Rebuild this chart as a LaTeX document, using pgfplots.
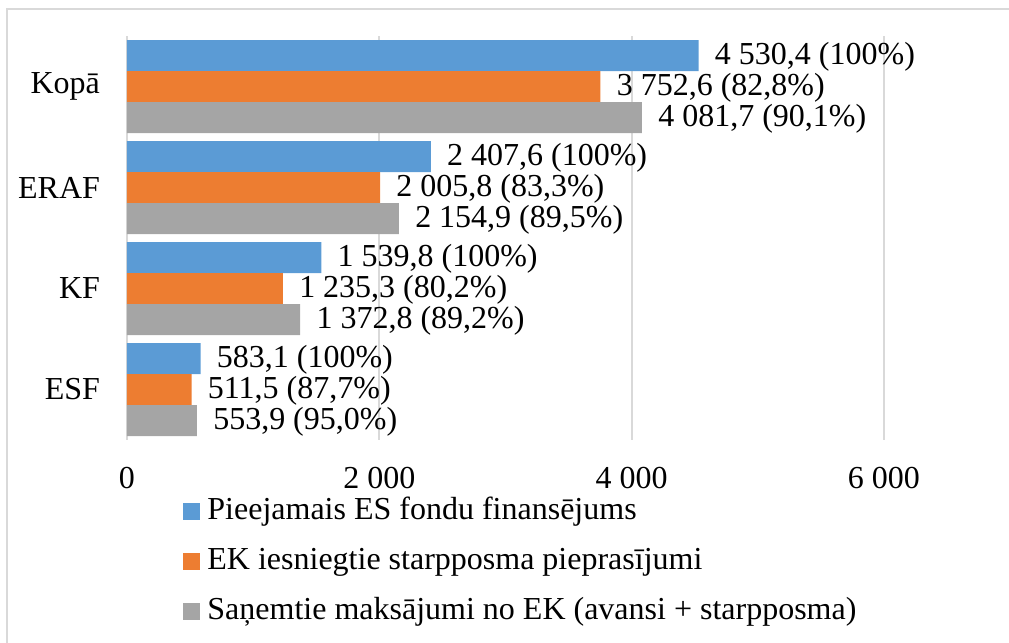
\documentclass[border=0pt]{standalone}
\usepackage{fontspec}
\setmainfont{Liberation Serif}
\usepackage{pgfplots}
\pgfplotsset{compat=1.18}
\definecolor{cblue}{HTML}{5B9BD5}
\definecolor{corange}{HTML}{ED7D31}
\definecolor{cgray}{HTML}{A5A5A5}
\definecolor{cgrid}{HTML}{D9D9D9}
\pgfplotsset{sqlegend/.style={legend image code/.code={\fill[##1] (0pt,-4.25pt) rectangle (8.5pt,4.25pt);}}}
\newcommand{\bigf}{\fontsize{16}{19}\selectfont}
\begin{document}
\begin{tikzpicture}
\useasboundingbox (0,0) rectangle (504.5pt,-321.5pt);
\draw[cgrid, line width=1.2pt] (3.5pt,-321.5pt) -- (3.5pt,-4.5pt) -- (504.5pt,-4.5pt);
\begin{axis}[
  at={(63.5pt,-220pt)}, anchor=south west,
  scale only axis, width=378.5pt, height=202pt,
  xbar, bar width=0.307, y dir=reverse,
  xmin=0, xmax=6000, ymin=-0.5, ymax=3.5,
  xtick={0,2000,4000,6000}, xticklabels={0,2 000,4 000,6 000},
  ytick={0,1,2,3}, yticklabels={Kopā,ERAF,KF,ESF},
  major tick length=0pt,
  axis line style={draw=none},
  xmajorgrids, grid style={cgrid, line width=1pt},
  tick label style={font=\bigf},
  xticklabel style={yshift=-10pt},
  yticklabel style={xshift=-10pt},
  clip=false,
  point meta=explicit symbolic,
  nodes near coords,
  nodes near coords style={anchor=west, font=\bigf, inner sep=0pt, xshift=8pt, yshift=-0.8pt, text=black},
  legend style={at={(0.074,-0.141)}, anchor=north west, draw=none, fill=none,
    font=\bigf, inner sep=0pt, row sep=10.5pt, column sep=3.5pt,
    nodes={inner sep=0pt, text height=11pt, text depth=3.5pt}},
  legend cell align=left,
]
\addplot[fill=cblue, draw=none, bar shift=-0.307, sqlegend] coordinates {
  (4530.4,0) [{4 530,4 (100\%)}]
  (2407.6,1) [{2 407,6 (100\%)}]
  (1539.8,2) [{1 539,8 (100\%)}]
  (583.1,3)  [{583,1 (100\%)}]
};
\addlegendentry{Pieejamais ES fondu finansējums}
\addplot[fill=corange, draw=none, bar shift=0, sqlegend] coordinates {
  (3752.6,0) [{3 752,6 (82,8\%)}]
  (2005.8,1) [{2 005,8 (83,3\%)}]
  (1235.3,2) [{1 235,3 (80,2\%)}]
  (511.5,3)  [{511,5 (87,7\%)}]
};
\addlegendentry{EK iesniegtie starpposma pieprasījumi}
\addplot[fill=cgray, draw=none, bar shift=0.307, sqlegend] coordinates {
  (4081.7,0) [{4 081,7 (90,1\%)}]
  (2154.9,1) [{2 154,9 (89,5\%)}]
  (1372.8,2) [{1 372,8 (89,2\%)}]
  (553.9,3)  [{553,9 (95,0\%)}]
};
\addlegendentry{Saņemtie maksājumi no EK (avansi + starpposma)}
\end{axis}
\end{tikzpicture}
\end{document}
